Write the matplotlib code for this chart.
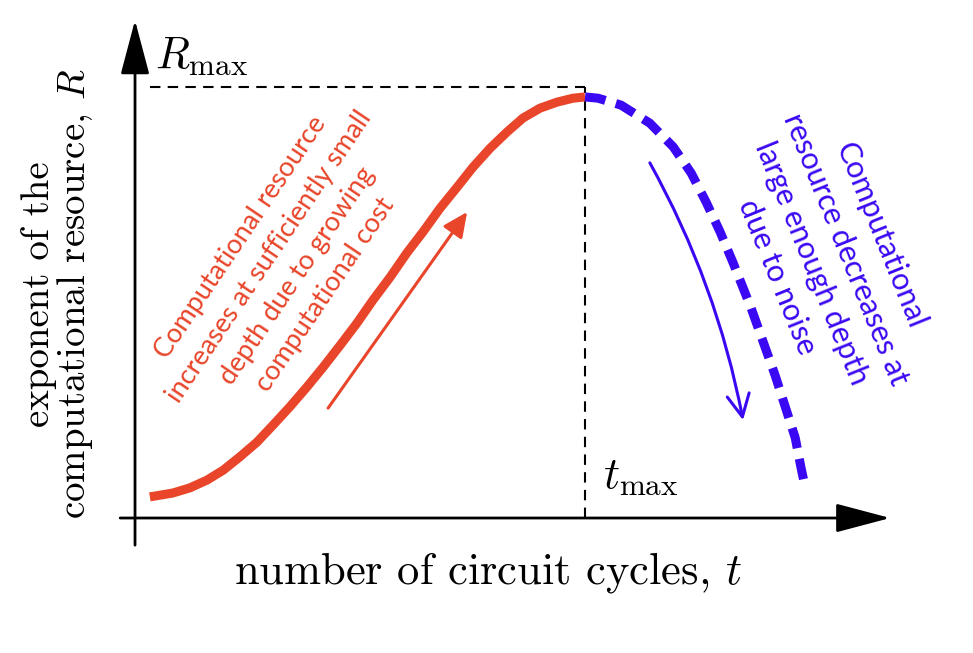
import numpy as np
import matplotlib.pyplot as plt

plt.rcParams['mathtext.fontset'] = 'cm'

# red branch: R grows with t up to t_max
t_up = [0.033, 0.084, 0.122, 0.160, 0.196, 0.233, 0.271, 0.307, 0.344,
        0.382, 0.418, 0.456, 0.493, 0.529, 0.567, 0.604, 0.640, 0.678,
        0.716, 0.751, 0.789, 0.827, 0.862, 0.900, 0.938, 0.973, 1.0]
R_up = [0.049, 0.058, 0.070, 0.088, 0.111, 0.142, 0.176, 0.216, 0.258,
        0.304, 0.350, 0.401, 0.452, 0.506, 0.559, 0.615, 0.664, 0.719,
        0.768, 0.814, 0.858, 0.896, 0.928, 0.951, 0.965, 0.974, 0.977]

# blue branch: R falls after t_max (noise)
t_down = [1.0, 1.029, 1.080, 1.144, 1.196, 1.236, 1.269, 1.300, 1.329,
          1.369, 1.396, 1.422, 1.447, 1.467, 1.480, 1.489]
R_down = [0.977, 0.974, 0.958, 0.916, 0.861, 0.800, 0.733, 0.664, 0.592,
          0.487, 0.408, 0.332, 0.251, 0.186, 0.116, 0.072]

t_max = 1.0
R_max = 1.0

red = '#E8452A'
blue = '#3A08F2'

txt_up = "Computational resource\nincreases at sufficiently small\ndepth due to growing\ncomputational cost"
txt_down = "Computational\nresource decreases at\nlarge enough depth\ndue to noise"

fig = plt.figure(figsize=(9.73, 6.53), dpi=100)
ax = fig.add_axes([0, 0, 1, 1])
ax.set_xlim(-0.3, 1.862)
ax.set_ylim(-0.3132, 1.2019)
ax.axis('off')

# axes with arrow heads
head = '-|>,head_length=1.7,head_width=0.45'
ax.annotate('', xy=(1.678, 0), xytext=(-0.033, 0),
            arrowprops=dict(arrowstyle=head, lw=2, color='black',
                            shrinkA=0, shrinkB=0, mutation_scale=20))
ax.annotate('', xy=(0, 1.155), xytext=(0, -0.063),
            arrowprops=dict(arrowstyle=head, lw=2, color='black',
                            shrinkA=0, shrinkB=0, mutation_scale=20))

# guide lines
ax.plot([0.033, t_max], [R_max, R_max], color='black', lw=1.5, ls=(0, (5, 3.5)))
ax.plot([t_max, t_max], [0, R_max], color='black', lw=1.5, ls=(0, (5, 3.5)))

# curves
ax.plot(t_up, R_up, color=red, lw=6.5, solid_capstyle='butt', solid_joinstyle='round')
ax.plot(t_down, R_down, color=blue, lw=6.5, ls=(0, (2.3, 1.2)), dash_capstyle='butt')

# trend arrows
ax.annotate('', xy=(0.738, 0.710), xytext=(0.429, 0.255),
            arrowprops=dict(arrowstyle='-|>,head_length=0.75,head_width=0.35',
                            lw=2.2, color=red, shrinkA=0, shrinkB=0,
                            mutation_scale=20))
ax.annotate('', xy=(1.351, 0.227), xytext=(1.144, 0.824),
            arrowprops=dict(arrowstyle='->,head_length=0.8,head_width=0.4',
                            lw=2.2, color=blue, shrinkA=0, shrinkB=0,
                            mutation_scale=20,
                            connectionstyle='arc3,rad=-0.08'))

# annotations
ax.text(0.329, 0.585, txt_up, color=red, fontsize=19.5, family='Lato',
        rotation=56, rotation_mode='anchor', ha='center', va='center',
        multialignment='center', linespacing=1.45)
ax.text(1.542, 0.608, txt_down, color=blue, fontsize=22, family='Lato',
        rotation=-68, rotation_mode='anchor', ha='center', va='center',
        multialignment='center', linespacing=1.4)

ax.text(0.044, 1.046, r'$R_{\max}$', fontsize=32, ha='left', va='baseline')
ax.text(1.04, 0.072, r'$t_{\max}$', fontsize=32, ha='left', va='baseline')

ax.text(0.785, -0.151, r'number of circuit cycles, $t$', fontsize=32,
        family='cmr10', ha='center', va='baseline')
ax.text(-0.171, 0.52, 'exponent of the\ncomputational resource, $R$', fontsize=28,
        family='cmr10', rotation=90, ha='center', va='center',
        multialignment='center', linespacing=0.92)

fig.savefig('out.png', dpi=100)
